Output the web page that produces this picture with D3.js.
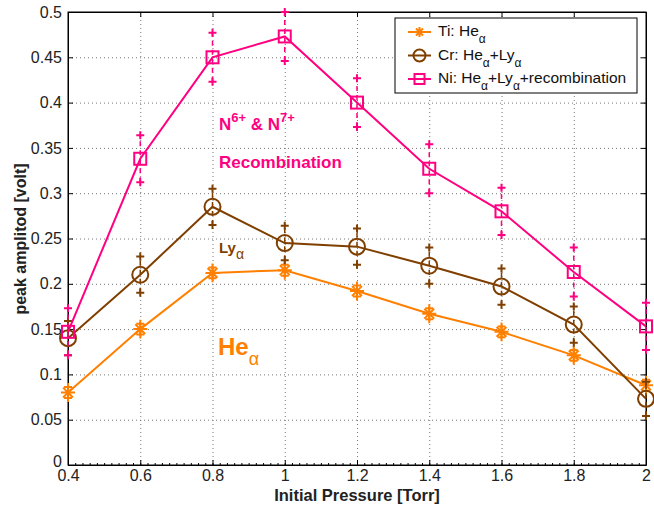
<!DOCTYPE html>
<html lang="en">
<head>
<meta charset="UTF-8">
<title>Peak amplitude vs initial pressure</title>
<script src="https://d3js.org/d3.v7.min.js"></script>
<style>
body {margin: 0; background: white;}
svg {display: block; font-family: "Liberation Sans", Arial, sans-serif;}
.grid line {stroke: #777; stroke-dasharray: 1,3;}
.grid path {display: none;}
.axis text {font-size: 16px; fill: #222;}
.axis path, .axis line {stroke: black;}
</style>
</head>
<body>
<svg width="654" height="509"></svg>
<script>
// pressure [Torr]
const pressure = [0.4, 0.6, 0.8, 1.0, 1.2, 1.4, 1.6, 1.8, 2.0];
// peak amplitude [volt]
const ti = [0.080, 0.150, 0.212, 0.215, 0.192, 0.167, 0.147, 0.121, 0.088];
const cr = [0.140, 0.210, 0.285, 0.245, 0.241, 0.220, 0.197, 0.155, 0.073];
const ni = [0.147, 0.338, 0.450, 0.473, 0.400, 0.327, 0.280, 0.213, 0.153];
// half error bars
const tiErr = [0.006, 0.006, 0.006, 0.006, 0.006, 0.006, 0.006, 0.006, 0.006];
const crErr = [0.019, 0.020, 0.020, 0.019, 0.020, 0.020, 0.020, 0.020, 0.019];
const niErr = [0.026, 0.026, 0.027, 0.027, 0.027, 0.027, 0.026, 0.027, 0.026];
const xTicks = [0.4, 0.6, 0.8, 1, 1.2, 1.4, 1.6, 1.8, 2];
const yTicks = [0, 0.05, 0.1, 0.15, 0.2, 0.25, 0.3, 0.35, 0.4, 0.45, 0.5];

const svg = d3.select("svg");
const x = d3.scaleLinear().domain([0.4, 2]).range([68, 646]);
const y = d3.scaleLinear().domain([0, 0.5]).range([465, 12]);

// grid
svg.append("g").attr("class", "grid")
  .attr("transform", "translate(0,465)")
  .call(d3.axisBottom(x).tickValues(xTicks).tickSize(-453).tickFormat(""));
svg.append("g").attr("class", "grid")
  .attr("transform", "translate(68,0)")
  .call(d3.axisLeft(y).tickValues(yTicks).tickSize(-578).tickFormat(""));

// box
svg.append("rect").attr("x", 68).attr("y", 12).attr("width", 578).attr("height", 453)
  .attr("fill", "none").attr("stroke", "black").attr("stroke-width", 1);

// axes with inward ticks
svg.append("g").attr("class", "axis").attr("transform", "translate(0,465)")
  .call(d3.axisBottom(x).tickValues(xTicks).tickSizeInner(-5).tickSizeOuter(0).tickPadding(5).tickFormat(d3.format("")));
svg.append("g").attr("class", "axis").attr("transform", "translate(0,12)")
  .call(d3.axisTop(x).tickValues(xTicks).tickSizeInner(-5).tickSizeOuter(0).tickFormat(""));
const yAx = svg.append("g").attr("class", "axis").attr("transform", "translate(68,0)")
  .call(d3.axisLeft(y).tickValues(yTicks).tickSizeInner(-5).tickSizeOuter(0).tickPadding(6).tickFormat(d3.format("")));
yAx.selectAll(".tick").filter(d => d === 0).select("text").attr("dy", "0.1em");
svg.append("g").attr("class", "axis").attr("transform", "translate(646,0)")
  .call(d3.axisRight(y).tickValues(yTicks).tickSizeInner(-5).tickSizeOuter(0).tickFormat(""));
// minor ticks on x
svg.append("g").attr("class", "axis").attr("transform", "translate(0,465)")
  .call(d3.axisBottom(x).ticks(80).tickSizeInner(-2).tickSizeOuter(0).tickFormat(""))
  .select("path").remove();

// axis labels
svg.append("text").attr("x", 357).attr("y", 501).attr("text-anchor", "middle")
  .attr("font-weight", "bold").attr("font-size", 16.5).attr("fill", "#222")
  .text("Initial Pressure [Torr]");
svg.append("text").attr("transform", "translate(26,239) rotate(-90)").attr("text-anchor", "middle")
  .attr("font-weight", "bold").attr("font-size", 16).attr("fill", "#222")
  .text("peak amplitod [volt]");

const series = [
  {name: "ti", vals: ti, err: tiErr, color: "#ff8000", marker: "star"},
  {name: "cr", vals: cr, err: crErr, color: "#7f3f00", marker: "circle"},
  {name: "ni", vals: ni, err: niErr, color: "#ff0080", marker: "square"}
];

function drawMarker(g, type, cx, cy, color, size) {
  if (type === "star") {
    const r = size || 7;
    const p = `M${cx-r},${cy}H${cx+r}M${cx},${cy-r}V${cy+r}` +
      `M${cx-r*0.7},${cy-r*0.7}L${cx+r*0.7},${cy+r*0.7}M${cx-r*0.7},${cy+r*0.7}L${cx+r*0.7},${cy-r*0.7}`;
    g.append("path").attr("d", p).attr("stroke", color).attr("stroke-width", 2).attr("fill", "none");
  } else if (type === "circle") {
    g.append("circle").attr("cx", cx).attr("cy", cy).attr("r", size || 8)
      .attr("fill", "none").attr("stroke", color).attr("stroke-width", 2);
  } else if (type === "square") {
    const h = size || 6;
    g.append("rect").attr("x", cx - h).attr("y", cy - h).attr("width", 2 * h).attr("height", 2 * h)
      .attr("fill", "none").attr("stroke", color).attr("stroke-width", 2);
  } else if (type === "plus") {
    const r = 4;
    g.append("path").attr("d", `M${cx-r},${cy}H${cx+r}M${cx},${cy-r}V${cy+r}`)
      .attr("stroke", color).attr("stroke-width", 2).attr("fill", "none");
  }
}

const line = d3.line().x((d, i) => x(pressure[i])).y(d => y(d));

series.forEach(s => {
  const g = svg.append("g");
  // error bars
  s.vals.forEach((v, i) => {
    const cx = x(pressure[i]);
    g.append("line").attr("x1", cx).attr("x2", cx)
      .attr("y1", y(v - s.err[i])).attr("y2", y(v + s.err[i]))
      .attr("stroke", s.color).attr("stroke-width", 1.5).attr("stroke-dasharray", "5,4");
    drawMarker(g, "plus", cx, y(v + s.err[i]), s.color);
    drawMarker(g, "plus", cx, y(v - s.err[i]), s.color);
  });
  g.append("path").datum(s.vals).attr("d", line)
    .attr("fill", "none").attr("stroke", s.color).attr("stroke-width", 2);
  s.vals.forEach((v, i) => drawMarker(g, s.marker, x(pressure[i]), y(v), s.color));
});

// annotations
const a1 = svg.append("text").attr("x", 219).attr("y", 130).attr("fill", "#ff0080")
  .attr("font-weight", "bold").attr("font-size", 17);
a1.append("tspan").text("N");
a1.append("tspan").attr("dy", -8).attr("font-size", 13).text("6+");
a1.append("tspan").attr("dy", 8).text(" & N");
a1.append("tspan").attr("dy", -8).attr("font-size", 13).text("7+");
svg.append("text").attr("x", 219).attr("y", 168).attr("fill", "#ff0080")
  .attr("font-weight", "bold").attr("font-size", 17).text("Recombination");
const a3 = svg.append("text").attr("x", 219).attr("y", 253).attr("fill", "#7f3f00")
  .attr("font-weight", "bold").attr("font-size", 15);
a3.append("tspan").text("Ly");
a3.append("tspan").attr("dy", 6).attr("font-weight", "normal").attr("font-size", 14).text("α");
const a4 = svg.append("text").attr("x", 218).attr("y", 355).attr("fill", "#ff8000")
  .attr("font-weight", "bold").attr("font-size", 24);
a4.append("tspan").text("He");
a4.append("tspan").attr("dy", 10).attr("font-weight", "normal").attr("font-size", 18).text("α");

// legend
const lg = svg.append("g");
lg.append("rect").attr("x", 395).attr("y", 18).attr("width", 242).attr("height", 75)
  .attr("fill", "white").attr("stroke", "black").attr("stroke-width", 1);
const legendRows = [
  {s: series[0], parts: [["Ti: He", 0], ["α", 1]]},
  {s: series[1], parts: [["Cr: He", 0], ["α", 1], ["+Ly", 0], ["α", 1]]},
  {s: series[2], parts: [["Ni: He", 0], ["α", 1], ["+Ly", 0], ["α", 1], ["+recombination", 0]]}
];
legendRows.forEach((r, i) => {
  const ly = 32 + i * 23.5;
  lg.append("line").attr("x1", 408).attr("x2", 431).attr("y1", ly).attr("y2", ly)
    .attr("stroke", r.s.color).attr("stroke-width", 2);
  drawMarker(lg, r.s.marker, 419.5, ly, r.s.color, r.s.marker === "circle" ? 6 : 5);
  const t = lg.append("text").attr("x", 438).attr("y", ly + 4).attr("font-size", 15.5).attr("fill", "#111");
  let sub = false;
  r.parts.forEach(p => {
    if (p[1] === 1) {
      t.append("tspan").attr("dy", 7).attr("font-size", 12).text(p[0]);
      sub = true;
    } else {
      t.append("tspan").attr("dy", sub ? -7 : 0).text(p[0]);
      sub = false;
    }
  });
});
</script>
</body>
</html>
